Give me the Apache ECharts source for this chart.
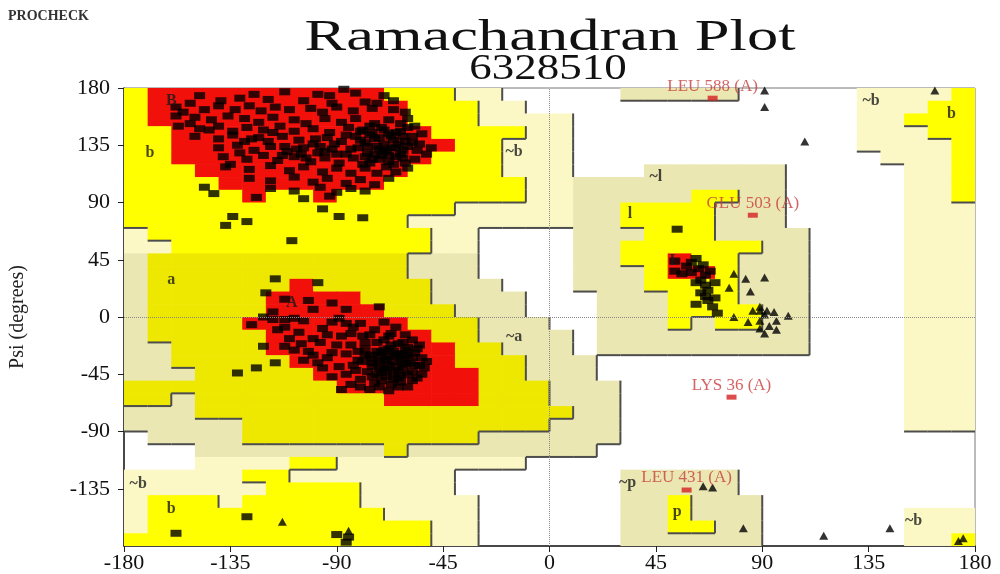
<!DOCTYPE html>
<html>
<head>
<meta charset="utf-8">
<script src="https://cdn.jsdelivr.net/npm/echarts@6/dist/echarts.min.js"></script>
<style>
html, body { margin: 0; padding: 0; background: #ffffff; }
#chart { width: 1000px; height: 574px; }
</style>
</head>
<body>
<div id="chart"></div>
<script>
// Axis ticks for phi and psi (degrees)
const axisTicks = [-180, -135, -90, -45, 0, 45, 90, 135, 180];

// PROCHECK region map, 10-degree cells, one row per psi band from +180 down to -180,
// each row run-length coded from phi -180 to +180.
// R core, Y/y allowed, P/B generously allowed, W disallowed.
const regionRows = [
  "Y1 R10 Y3 P2 W5 B5 W5 P4 Y1",
  "Y1 R11 Y3 P2 W14 P3 Y2",
  "Y1 R11 Y3 P4 W12 P2 Y3",
  "Y2 R11 Y4 P2 W12 P3 Y2",
  "Y2 R12 Y2 P3 W12 P4 Y1",
  "Y2 R11 Y3 P3 W13 P3 Y1",
  "Y3 R9 Y4 P3 W3 B6 W5 P2 Y1",
  "Y4 R7 Y6 P2 B9 W5 P2 Y1",
  "Y5 R1 Y2 R1 Y8 P2 B5 Y2 B2 W5 P2 Y1",
  "Y14 P5 B2 Y4 B3 W5 P3",
  "Y12 P7 B2 Y4 B3 W5 P3",
  "P1 Y12 P2 W4 B3 Y3 B4 W4 P3",
  "P2 Y11 P2 W4 B2 Y6 B2 W4 P3",
  "B1 y11 B3 W4 B2 Y2 R1 Y2 B3 W4 P3",
  "B1 y11 B3 W4 B3 Y1 R2 Y1 B3 W4 P3",
  "B1 y6 R1 y5 B3 W3 B3 Y4 B3 W4 P3",
  "B1 y5 R4 y3 B4 W3 B3 Y3 B3 W4 P3",
  "B1 y5 R5 y3 B3 W3 B3 Y4 B2 W4 P3",
  "B1 y4 R7 y3 B3 W2 B3 Y1 B1 Y2 B2 W4 P3",
  "B1 y5 R7 y2 B4 W1 B9 W4 P3",
  "B2 y4 R8 y2 B3 W1 B9 W4 P3",
  "B2 y5 R7 y3 B3 W13 P3",
  "B3 y5 R7 y2 B3 W13 P3",
  "y9 R6 y3 B3 W12 P3",
  "y2 B1 y8 R4 y3 B3 W12 P3",
  "B3 y16 B2 W12 P3",
  "B5 y13 B3 W12 P3",
  "W1 B4 y10 B6 W15",
  "W3 B8 y1 B8 W16",
  "W3 P4 Y2 P8 W19",
  "P5 Y2 P7 W7 B5 W10",
  "P6 Y4 P4 W7 B5 W10",
  "P1 Y3 P1 Y5 P5 W6 B2 Y1 B3 W9",
  "P1 Y10 P4 W6 B2 Y1 B3 W6 P3",
  "P1 Y12 P2 W6 B2 Y2 B2 W6 P3",
  "Y13 P2 W6 B6 W6 P2 Y1"
];

// Non-glycine residues [phi, psi]
const betaResidues = [
  [-148,174],[-125,175],[-119,171],[-112,177],[-98,175],[-87,179],[-92,168],[-78,169],[-73,168],[-66,170],
  [-158,165],[-152,168],[-146,163],[-140,166],[-133,163],[-127,166],[-122,162],[-116,165],[-110,163],[-101,164],
  [-96,161],[-90,165],[-83,162],[-75,164],[-66,163],[-61,161],
  [-158,158],[-150,157],[-143,155],[-136,158],[-129,156],[-123,153],[-117,157],[-108,155],[-103,152],[-95,156],
  [-88,153],[-82,156],[-74,152],[-68,155],[-63,152],
  [-157,150],[-148,148],[-140,150],[-134,146],[-128,149],[-121,147],[-114,150],[-108,146],[-100,148],[-93,145],
  [-85,149],[-80,146],[-76,150],[-70,147],[-65,145],[-60,149],
  [-150,142],[-140,140],[-134,143],[-126,140],[-119,138],[-113,142],[-106,139],[-100,136],[-94,141],[-88,138],
  [-82,142],[-78,137],[-74,140],[-70,136],[-66,139],[-62,142],[-58,137],
  [-140,133],[-132,135],[-125,131],[-118,134],[-111,130],[-104,133],[-98,129],[-92,132],[-86,128],[-81,133],
  [-77,129],[-73,134],[-70,130],[-67,133],[-63,128],[-60,134],[-56,131],[-52,128],
  [-138,126],[-128,124],[-121,127],[-115,123],[-108,126],[-101,122],[-95,125],[-89,121],[-83,125],[-79,120],
  [-75,124],[-71,127],[-68,122],[-65,126],[-61,121],[-57,124],
  [-137,118],[-127,116],[-118,119],[-110,115],[-104,118],[-96,114],[-90,117],[-84,113],[-78,117],[-73,113],
  [-69,118],[-65,114],[-60,117],
  [-127,109],[-118,107],[-108,110],[-100,106],[-94,109],[-86,105],[-80,108],[-74,104],[-68,109],
  [-118,101],[-108,99],[-97,102],[-90,98],[-84,101],[-78,99],
  [-142,97],[-124,94],[-104,93],[-93,95],[-146,102],
  [-76,143],[-72,141],[-68,144],[-64,136],[-72,132],[-78,126],[-84,132],[-90,128],[-97,134],[-105,128],
  [-112,134],[-68,127],[-62,131],[-58,142],[-55,136],
  [-79,147],[-75,145],[-71,149],[-67,142],[-63,146],[-77,134],[-74,128],[-69,131],[-65,133],[-61,138],
  [-80,139],[-76,121],[-72,124],[-66,120],[-62,125],[-86,143],[-91,136],[-95,130],[-99,140],[-103,125],
  [-107,132],[-113,127],[-117,145],[-123,141],[-129,138],[-131,129],[-135,120],[-144,147],[-152,152],[-155,161],
  [-139,170],[-131,172],[-104,170],[-93,174],[-82,176],[-70,174],[-60,156],[-57,150],[-54,144],[-50,133],
  [-134,79],[-137,72],[-128,75],[-109,60],[-96,85],[-89,79],[-79,78]
];
const alphaResidues = [
  [-116,30],[-98,27],[-120,19],[-112,14],[-102,13],[-92,11],[-100,6],[-86,6],[-72,8],[-117,4],
  [-121,0],[-117,-2],[-112,-2],[-112,-8],[-108,-1],[-104,-3],[-96,-9],[-92,-4],[-89,-1],[-86,-5],
  [-84,-13],[-80,-5],[-78,-20],[-74,-10],[-70,-18],[-67,-13],[-64,-21],[-62,-29],[-61,-37],[-65,-39],
  [-70,-34],[-75,-39],[-81,-34],[-86,-29],[-89,-39],[-88,-57],[-84,-53],[-80,-49],[-75,-47],[-71,-44],
  [-65,-29],[-121,-23],[-112,-23],[-105,-21],[-100,-17],[-132,-44],[-124,-40],[-116,-36],
  [-78,-25],[-76,-30],[-73,-27],[-72,-35],[-70,-40],[-68,-25],[-68,-31],[-66,-35],[-66,-44],[-64,-48],
  [-63,-33],[-62,-40],[-60,-24],[-60,-30],[-59,-36],[-58,-43],[-57,-28],[-56,-48],[-55,-38],[-54,-32],
  [-77,-43],[-74,-52],[-71,-50],[-69,-47],[-67,-53],[-63,-51],[-60,-55],[-79,-35],[-82,-42],[-84,-22],
  [-90,-22],[-94,-32],[-97,-20],[-88,-15],[-92,-47],[-96,-40],[-100,-30],[-106,-12],[-102,-27],[-58,-18],
  [-55,-22],[-53,-40],[-61,-14],[-65,-8],[-70,-4],[-76,-14],
  [-71,-28],[-68,-38],[-64,-42],[-73,-45],[-62,-35],[-66,-27],[-69,-33],
  [-75,-33],[-72,-30],[-70,-26],[-67,-22],[-64,-30],[-61,-26],[-58,-32],[-57,-38],[-60,-45],[-63,-46],
  [-66,-49],[-69,-42],[-72,-40],[-75,-36],[-78,-30],[-81,-27],[-83,-38],[-86,-45],[-80,-55],[-76,-57],
  [-72,-55],[-68,-58],[-64,-55],[-58,-50],[-54,-45],[-52,-35],[-56,-25],[-62,-20],[-68,-15],[-73,-20],
  [-79,-15],[-83,-8],[-92,-28],[-94,-14],[-98,-36],[-104,-34],[-108,-26],[-110,-17],[-115,-10],[-126,-6]
];
const leftHandResidues = [
  [54,69],[62,46],[53,44],[53,36],[56,34],[60,35],[63,38],[64,29],[62,27],[66,25],
  [67,21],[66,16],[67,13],[69,8],[58,40],[66,33],
  [60,43],[65,41],[68,36],[70,27],[64,19],[70,15],[62,10],[71,3]
];
const sparseResidues = [
  [-158,-170],[-128,-157],[-90,-171],[-85,-173],[-86,-177]
];

// Glycine residues [phi, psi]
const glycineResidues = [
  [78,34],[83,30],[91,31],[76,23],[85,20],[86,5],[89,5],[91,2],[78,0],[84,-4],
  [89,-3],[89,-9],[92,5],[95,4],[96,-3],[101,1],[96,-10],[91,-13],[89,8],[93,-7],
  [163,178],[91,165],[108,138],[91,178],
  [82,-166],[116,-172],[144,-166],[173,-176],[175,-174],[65,-133],[69,-134],[-113,-161],[-85,-168]
];

// Residues outside the allowed regions
const outlierNames = ["LEU 588 (A)", "GLU 503 (A)", "LYS 36 (A)", "LEU 431 (A)"];
const outlierPhi = [69, 86, 77, 58];
const outlierPsi = [172, 80, -63, -136];

// Region letters [text, phi, psi]
const regionLabels = [
  ["B", -160, 170], ["b", -169, 129], ["A", -109, 11], ["a", -160, 29],
  ["~b", -15, 130], ["~a", -15, -16], ["~l", 45, 110], ["l", 34, 81], ["L", 53, 44],
  ["~b", 136, 170], ["b", 170, 160], ["~b", -174, -131], ["b", -160, -151],
  ["~p", 33, -130], ["p", 54, -153], ["~b", 154, -160]
];

const regionCodes = ["W", "P", "B", "Y", "y", "R"];
const regionColors = { P: "#fbf8c6", B: "#ebe7b2", Y: "#ffff00", y: "#eee800", R: "#f2100b" };
const regionRank = { W: 0, P: 1, B: 1, Y: 2, y: 2, R: 2 };
const serif = "Liberation Serif";

function expandRow(spec) {
  const out = [];
  spec.split(" ").forEach(function (tok) {
    const k = tok[0], n = parseInt(tok.slice(1), 10);
    for (let i = 0; i < n; i++) out.push(k);
  });
  return out;
}
const regionGrid = regionRows.map(expandRow);

// Cells as [phi0, psi0, codeIndex]
const cellData = [];
regionGrid.forEach(function (row, r) {
  row.forEach(function (k, c) {
    if (k !== "W") cellData.push([-180 + c * 10, 170 - r * 10, regionCodes.indexOf(k)]);
  });
});

// Boundary strokes on the lower/right side of each higher region
const edgeData = [];
for (let r = 0; r < 36; r++) {
  for (let c = 0; c < 36; c++) {
    const here = regionRank[regionGrid[r][c]];
    if (c < 35 && here > regionRank[regionGrid[r][c + 1]]) {
      const x = -180 + (c + 1) * 10, top = 180 - r * 10;
      edgeData.push([x, top, x, top - 10]);
    }
    if (r < 35 && here > regionRank[regionGrid[r + 1][c]]) {
      const y = 180 - (r + 1) * 10, left = -180 + c * 10;
      edgeData.push([left, y, left + 10, y]);
    }
  }
}

const generalResidues = betaResidues.concat(alphaResidues, leftHandResidues, sparseResidues);
const outlierData = outlierNames.map(function (n, i) { return { name: n, value: [outlierPhi[i], outlierPsi[i]] }; });
const labelData = regionLabels.map(function (d) { return { name: d[0], value: [d[1], d[2]] }; });

const chart = echarts.init(document.getElementById("chart"));
chart.setOption({
  animation: false,
  backgroundColor: "#ffffff",
  graphic: [
    { type: "text", left: 8, top: 9, style: { text: "PROCHECK", font: 'bold 14px "Liberation Serif"', fill: "#333" } },
    { type: "text", x: 550, y: 38, scaleX: 1.42, style: { text: "Ramachandran Plot", font: '44px "Liberation Serif"', fill: "#111", align: "center", verticalAlign: "middle" } },
    { type: "text", x: 548, y: 70, scaleX: 1.25, style: { text: "6328510", font: '36px "Liberation Serif"', fill: "#111", align: "center", verticalAlign: "middle" } }
  ],
  grid: { left: 122, right: 25, top: 88, bottom: 26, show: true, borderColor: "#777", borderWidth: 1, backgroundColor: "#ffffff" },
  xAxis: {
    type: "value", min: axisTicks[0], max: axisTicks[axisTicks.length - 1], interval: axisTicks[1] - axisTicks[0],
    axisLine: { show: true, onZero: false, lineStyle: { color: "#222", width: 1.5 } },
    axisTick: { show: true, length: 6, lineStyle: { color: "#222" } },
    axisLabel: { fontFamily: serif, fontSize: 22, color: "#111", margin: 6 },
    splitLine: { show: false }
  },
  yAxis: {
    type: "value", min: axisTicks[0], max: axisTicks[axisTicks.length - 1], interval: axisTicks[1] - axisTicks[0],
    name: "Psi (degrees)", nameLocation: "middle", nameGap: 96, nameRotate: 90,
    nameTextStyle: { fontFamily: serif, fontSize: 20, color: "#222" },
    axisLine: { show: true, onZero: false, lineStyle: { color: "#222", width: 1.5 } },
    axisTick: { show: true, length: 6, lineStyle: { color: "#222" } },
    axisLabel: { fontFamily: serif, fontSize: 22, color: "#111", margin: 14, showMinLabel: false },
    splitLine: { show: false }
  },
  series: [
    {
      type: "custom", name: "regions", z: 1, clip: true, silent: true,
      data: cellData, encode: { x: 0, y: 1 },
      renderItem: function (params, api) {
        const phi = api.value(0), psi = api.value(1);
        const p1 = api.coord([phi, psi + 10]);
        const p2 = api.coord([phi + 10, psi]);
        return {
          type: "rect",
          shape: { x: p1[0], y: p1[1], width: p2[0] - p1[0] + 0.6, height: p2[1] - p1[1] + 0.6 },
          style: { fill: regionColors[regionCodes[api.value(2)]] }
        };
      }
    },
    {
      type: "custom", name: "edges", z: 2, clip: true, silent: true,
      data: edgeData, encode: { x: [0, 2], y: [1, 3] },
      renderItem: function (params, api) {
        const a = api.coord([api.value(0), api.value(1)]);
        const b = api.coord([api.value(2), api.value(3)]);
        return { type: "line", shape: { x1: a[0], y1: a[1], x2: b[0], y2: b[1] }, style: { stroke: "#4d4d4d", lineWidth: 2 } };
      },
      markLine: {
        silent: true, symbol: "none", label: { show: false },
        lineStyle: { type: "dotted", color: "#8a8a8a", width: 1 },
        data: [{ xAxis: 0 }, { yAxis: 0 }]
      }
    },
    {
      type: "scatter", name: "residues", z: 3, silent: true,
      symbol: "rect", symbolSize: [11, 7],
      itemStyle: { color: "#000000" },
      data: generalResidues
    },
    {
      type: "scatter", name: "glycine", z: 3, silent: true,
      symbol: "triangle", symbolSize: [9, 8],
      itemStyle: { color: "#000000" },
      data: glycineResidues
    },
    {
      type: "scatter", name: "outliers", z: 4, silent: true,
      symbol: "rect", symbolSize: [10, 5],
      itemStyle: { color: "#d42020" },
      label: { show: true, position: "top", distance: 1, formatter: "{b}", color: "#c83c3c", fontFamily: serif, fontSize: 17 },
      data: outlierData
    },
    {
      type: "scatter", name: "region letters", z: 5, silent: true,
      symbolSize: 0,
      label: { show: true, position: "inside", formatter: "{b}", color: "#1a1a1a", fontFamily: serif, fontSize: 16, fontWeight: "bold" },
      data: labelData
    }
  ]
});
</script>
</body>
</html>
